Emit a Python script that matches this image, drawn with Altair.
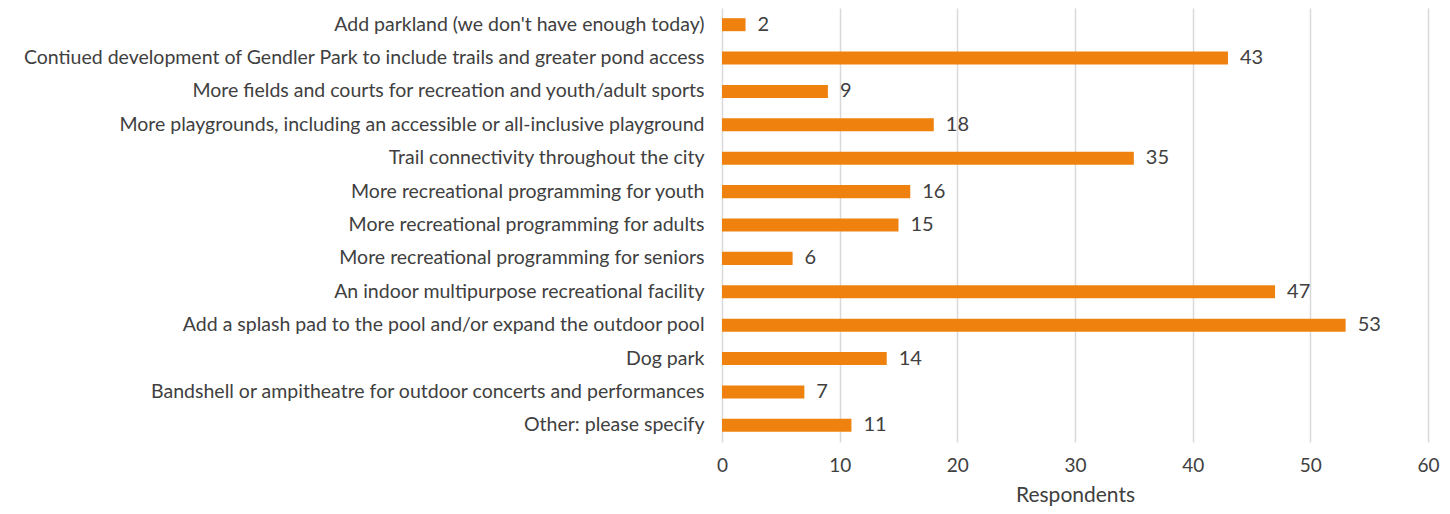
import altair as alt
import pandas as pd

categories = [
    "Add parkland (we don't have enough today)",
    "Contiued development of Gendler Park to include trails and greater pond access",
    "More fields and courts for recreation and youth/adult sports",
    "More playgrounds, including an accessible or all-inclusive playground",
    "Trail connectivity throughout the city",
    "More recreational programming for youth",
    "More recreational programming for adults",
    "More recreational programming for seniors",
    "An indoor multipurpose recreational facility",
    "Add a splash pad to the pool and/or expand the outdoor pool",
    "Dog park",
    "Bandshell or ampitheatre  for outdoor concerts and performances ",
    "Other: please specify",
]
values = [2, 43, 9, 18, 35, 16, 15, 6, 47, 53, 14, 7, 11]

df = pd.DataFrame({"category": categories, "value": values})

FONT = "Lato"
TXT = "#404040"

base = alt.Chart(df).encode(
    y=alt.Y("category:N", sort=categories, title=None,
            scale=alt.Scale(paddingInner=0.61, paddingOuter=0.305),
            axis=alt.Axis(labelFontSize=19.5, labelColor=TXT, labelFont=FONT,
                          labelLimit=1000, labelPadding=18, ticks=False,
                          domain=False, grid=False)),
)

bars = base.mark_bar(color="#EF820F").encode(
    x=alt.X("value:Q", title="Respondents",
            scale=alt.Scale(domain=[0, 60], nice=False),
            axis=alt.Axis(values=[0, 10, 20, 30, 40, 50, 60], labelFontSize=19,
                          labelColor=TXT, labelFont=FONT, titleFont=FONT,
                          titleFontSize=21, titleColor=TXT, titleFontWeight="normal",
                          labelFlush=False,
                          ticks=False, domain=False, gridColor="#D9D9D9",
                          gridWidth=1.5, labelPadding=14, titlePadding=9)),
)

labels = base.mark_text(align="left", baseline="middle", dx=12, fontSize=20,
                        font=FONT, color=TXT).encode(
    x="value:Q", text="value:Q")

chart = (bars + labels).properties(
    width=706, height=434,
    background="white",
    autosize=alt.AutoSizeParams(type="none"),
    padding={"left": 714, "top": 0, "right": 14, "bottom": 70},
).configure_view(stroke=None)

chart.save("out.html", embed_options={"renderer": "svg", "actions": False})
